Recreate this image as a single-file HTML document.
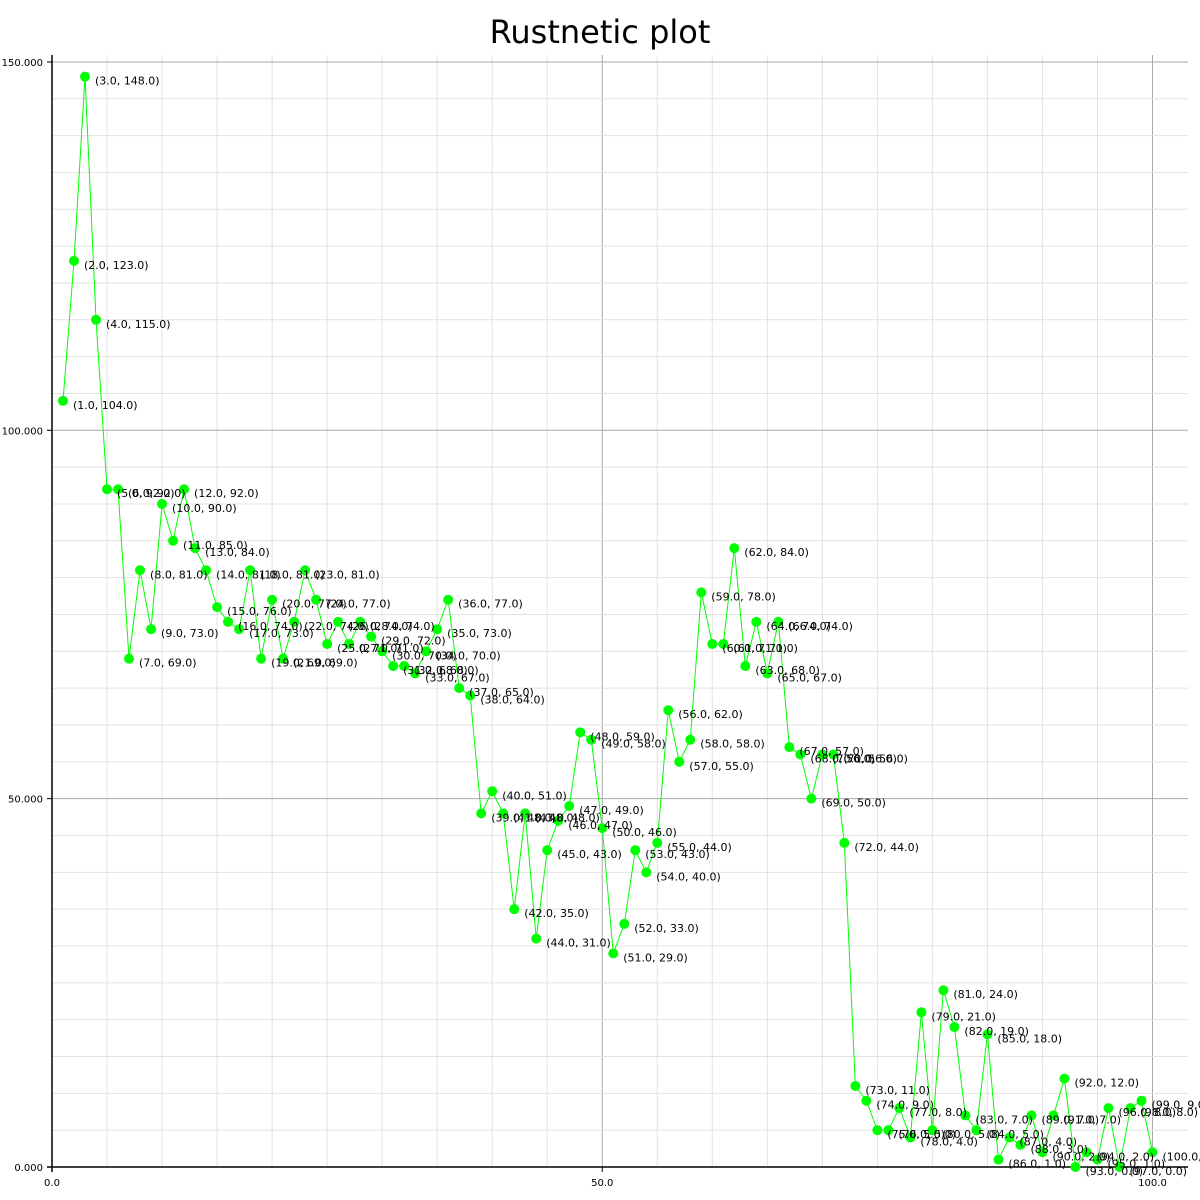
<!DOCTYPE html>
<html><head><meta charset="utf-8"><style>
html,body{margin:0;padding:0;background:#fff;}
svg{display:block;font-family:"DejaVu Sans","Liberation Sans",sans-serif;}
</style></head><body>
<svg id="chart" width="1200" height="1200" xmlns="http://www.w3.org/2000/svg">
<text x="600" y="43" text-anchor="middle" font-size="32" fill="#000">Rustnetic plot</text>
<g id="grid"></g><g id="axes"></g><g id="series"></g><g id="labels"></g>
</svg>
<script>
const xValues = [1,2,3,4,5,6,7,8,9,10,11,12,13,14,15,16,17,18,19,20,21,22,23,24,25,26,27,28,29,30,31,32,33,34,35,36,37,38,39,40,41,42,43,44,45,46,47,48,49,50,51,52,53,54,55,56,57,58,59,60,61,62,63,64,65,66,67,68,69,70,71,72,73,74,75,76,77,78,79,80,81,82,83,84,85,86,87,88,89,90,91,92,93,94,95,96,97,98,99,100];
const yValues = [104,123,148,115,92,92,69,81,73,90,85,92,84,81,76,74,73,81,69,77,69,74,81,77,71,74,71,74,72,70,68,68,67,70,73,77,65,64,48,51,48,35,48,31,43,47,49,59,58,46,29,33,43,40,44,62,55,58,78,71,71,84,68,74,67,74,57,56,50,56,56,44,11,9,5,5,8,4,21,5,24,19,7,5,18,1,4,3,7,2,7,12,0,2,1,8,0,8,9,2];
const xTicks = [0,50,100];
const yTicks = [0,50,100,150];
const xMinor = 5, yMinor = 5;

const NS="http://www.w3.org/2000/svg";
const X0=52, X1=1188, Y0=1167, Y1=55;
const xs = v => 52 + v*11.005;
const ys = v => 1167 - v*7.367;
function mk(tag, attrs, parent){const e=document.createElementNS(NS,tag);for(const k in attrs)e.setAttribute(k,attrs[k]);parent.appendChild(e);return e;}
const grid=document.getElementById('grid'), axes=document.getElementById('axes'), series=document.getElementById('series'), labels=document.getElementById('labels');

for(let v=0; xs(v)<=X1; v+=xMinor){
  const major = xTicks.includes(v);
  const l=mk('line',{x1:xs(v),x2:xs(v),y1:Y1,y2:Y0,stroke:major?'#aaa':'#e2e2e2','stroke-width':1},grid);
  
  
}
for(let v=0; ys(v)>=Y1; v+=yMinor){
  const major = yTicks.includes(v);
  const l=mk('line',{x1:X0,x2:X1,y1:ys(v),y2:ys(v),stroke:major?'#aaa':'#e2e2e2','stroke-width':1},grid);
  
  
}
let a=mk('line',{x1:X0,x2:X0,y1:Y1,y2:Y0+5,stroke:'#000','stroke-width':1.5},axes);


a=mk('line',{x1:X0-5,x2:X1,y1:Y0,y2:Y0,stroke:'#000','stroke-width':1.5},axes);


xTicks.forEach(v=>{
  mk('line',{x1:xs(v),x2:xs(v),y1:Y0,y2:Y0+5,stroke:'#000'},axes);
  const t=mk('text',{x:xs(v),y:Y0+19,'text-anchor':'middle','font-size':10,fill:'#000'},axes);
  t.textContent=v.toFixed(1);
  
  
});
yTicks.forEach(v=>{
  mk('line',{x1:X0-5,x2:X0,y1:ys(v),y2:ys(v),stroke:'#000'},axes);
  const t=mk('text',{x:X0-9,y:ys(v)+4,'text-anchor':'end','font-size':10,fill:'#000'},axes);
  t.textContent=v.toFixed(3);
  
  
});
const pts = xValues.map((x,i)=>xs(x)+','+ys(yValues[i])).join(' ');
const pl=mk('polyline',{points:pts,fill:'none',stroke:'#00ff00','stroke-width':1},series);


xValues.forEach((x,i)=>{
  const c=mk('circle',{cx:xs(x),cy:ys(yValues[i]),r:5,fill:'#00ff00'},series);
  
  
  const t=mk('text',{x:xs(x)+10,y:ys(yValues[i])+8,'font-size':11,fill:'#000'},labels);
  t.textContent='('+x.toFixed(1)+', '+yValues[i].toFixed(1)+')';
  
  
});
</script>
</body></html>
